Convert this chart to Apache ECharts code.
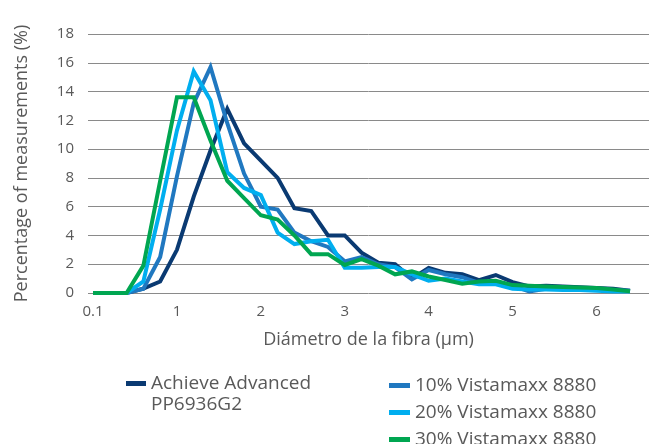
<!DOCTYPE html>
<html>
<head>
<meta charset="utf-8">
<script src="https://cdn.jsdelivr.net/npm/echarts@6/dist/echarts.min.js"></script>
<style>
html,body{margin:0;padding:0;background:#fff;}
#c{width:653px;height:444px;}
</style>
</head>
<body>
<div id="c"></div>
<script>
// Categories (fibre diameter, µm)
var categories = [0.1,0.2,0.4,0.6,0.8,1,1.2,1.4,1.6,1.8,2,2.2,2.4,2.6,2.8,3,3.2,3.4,3.6,3.8,4,4.2,4.4,4.6,4.8,5,5.2,5.4,5.6,5.8,6,6.2,6.4];
// Category indices where tick labels are shown
var labelIndices = [0,5,10,15,20,25,30];
var seriesNames = ['Achieve Advanced\nPP6936G2','10% Vistamaxx 8880','20% Vistamaxx 8880','30% Vistamaxx 8880'];
var achieve = [0,0,0,0.3,0.8,3.0,6.7,9.9,12.8,10.4,9.2,8.0,5.9,5.7,4.0,4.0,2.8,2.1,2.0,1.0,1.75,1.4,1.3,0.9,1.25,0.75,0.45,0.5,0.45,0.4,0.35,0.3,0.15];
var vm10 = [0,0,0,0.3,2.5,8.1,13.2,15.7,11.8,8.3,6.0,5.8,4.2,3.6,3.2,2.2,2.5,2.0,1.8,0.95,1.6,1.3,1.1,0.7,0.7,0.5,0.1,0.3,0.3,0.3,0.25,0.2,0.15];
var vm20 = [0,0,0,0.8,5.8,11.3,15.4,13.4,8.4,7.3,6.8,4.2,3.4,3.6,3.7,1.75,1.75,1.8,1.8,1.3,0.85,1.0,0.8,0.6,0.6,0.3,0.25,0.25,0.2,0.2,0.15,0.1,0.1];
var vm30 = [0,0,0,1.9,7.8,13.6,13.6,10.6,7.8,6.6,5.4,5.1,4.0,2.7,2.7,1.95,2.35,1.9,1.3,1.5,1.15,0.9,0.65,0.8,0.85,0.55,0.5,0.45,0.42,0.38,0.35,0.25,0.12];
var colors = ['#0a3a72','#2078c0','#00aeef','#00a651'];

function toPairs(arr){ return arr.map(function(v,i){ return [i,v]; }); }
var allData = [achieve, vm10, vm20, vm30];

var chart = echarts.init(document.getElementById('c'));
var font = '"Open Sans", sans-serif';
var txt = '#595959';
chart.setOption({
  animation:false,
  color: colors,
  grid:{left:88,right:4,top:34,bottom:151,containLabel:false},
  xAxis:{
    type:'value',
    min:-0.3, max:33.13,
    axisLine:{show:false},
    axisTick:{show:false},
    splitLine:{show:false},
    axisLabel:{
      customValues: labelIndices,
      formatter:function(v){ return String(categories[Math.round(v)]); },
      color:txt, fontSize:15, fontFamily:font, margin:11
    },
    name:'Diámetro de la fibra (µm)',
    nameLocation:'middle', nameGap:38,
    nameTextStyle:{color:txt,fontSize:18,fontFamily:font}
  },
  yAxis:{
    type:'value', min:0, max:18, interval:2,
    axisLine:{show:false},
    axisTick:{show:false},
    splitLine:{lineStyle:{color:'#8a8a8a',width:1}},
    axisLabel:{color:txt,fontSize:15,fontFamily:font,margin:14},
    name:'Percentage of measurements (%)',
    nameLocation:'middle', nameGap:57, nameRotate:90,
    nameTextStyle:{color:txt,fontSize:18,fontFamily:font}
  },
  legend:[{
    data:[seriesNames[0]],
    left:126, top:352, padding:0,
    icon:'rect', itemWidth:20, itemHeight:5,
    formatter:function(n){ return '\n' + n; },
    textStyle:{color:txt,fontSize:19,fontFamily:font,lineHeight:21}
  },{
    data:seriesNames.slice(1),
    orient:'vertical',
    left:389, top:376, height:90, padding:0, itemGap:8,
    icon:'rect', itemWidth:21, itemHeight:5,
    textStyle:{color:txt,fontSize:19,fontFamily:font,lineHeight:18}
  }],
  series: seriesNames.map(function(n,k){
    return {
      name:n, type:'line', data:toPairs(allData[k]),
      showSymbol:false, symbol:'none',
      lineStyle:{width:4,color:colors[k],join:'miter'},
      z:2+k
    };
  })
});
</script>
</body>
</html>
